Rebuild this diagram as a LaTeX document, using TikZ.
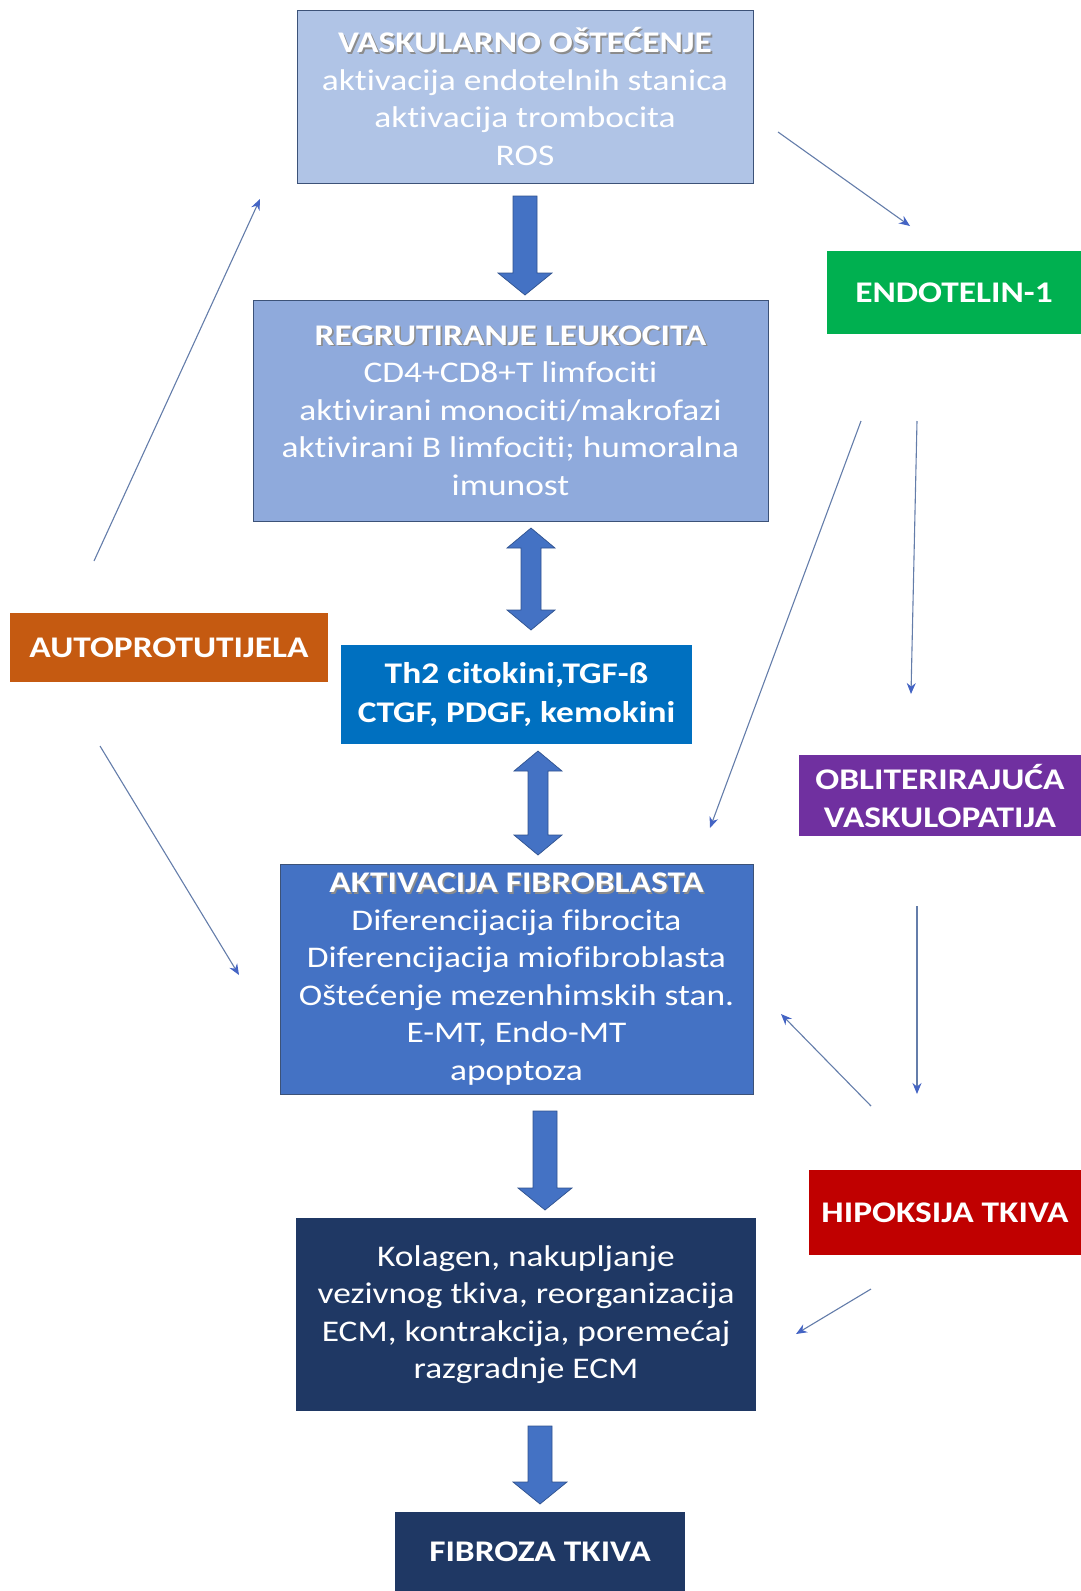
\documentclass[tikz,border=0pt]{standalone}
\usepackage{fontspec}
\setmainfont{Carlito}[FakeStretch=1.18,Ligatures={NoCommon,NoRare,NoContextual}]
\usetikzlibrary{arrows.meta}
\definecolor{bxone}{RGB}{176,196,230}
\definecolor{bxtwo}{RGB}{143,170,220}
\definecolor{bxthtwo}{RGB}{0,112,192}
\definecolor{bxfour}{RGB}{68,114,196}
\definecolor{bxnavy}{RGB}{31,56,100}
\definecolor{bxorange}{RGB}{197,90,17}
\definecolor{bxgreen}{RGB}{0,176,80}
\definecolor{bxpurple}{RGB}{112,48,160}
\definecolor{bxred}{RGB}{192,0,0}
\definecolor{bxline}{RGB}{60,82,120}
\definecolor{bigfill}{RGB}{68,114,196}
\definecolor{bigline}{RGB}{47,82,143}
\definecolor{thinline}{RGB}{100,125,170}
\definecolor{thinhead}{RGB}{68,100,196}
\newcommand\shtitle[1]{\leavevmode\rlap{\raisebox{-1.6pt}{\hspace{1.6pt}\textcolor{black!45}{\textbf{#1}}}}\textbf{#1}}
\newcommand\blockdown[3]{% x, ytop, ytip
  \filldraw[bigarrow] (#1-12,#2) -- (#1+12,#2) -- (#1+12,#3-22) -- (#1+27,#3-22) -- (#1,#3) -- (#1-27,#3-22) -- (#1-12,#3-22) -- cycle;}
\newcommand\blockboth[3]{% x, ytop, ybottom
  \filldraw[bigarrow] (#1,#2) -- (#1+24,#2+20) -- (#1+10,#2+20) -- (#1+10,#3-20) -- (#1+24,#3-20) -- (#1,#3) -- (#1-24,#3-20) -- (#1-10,#3-20) -- (#1-10,#2+20) -- (#1-24,#2+20) -- cycle;}
\begin{document}
\begin{tikzpicture}[x=1pt,y=-1pt,
  box/.style={draw=bxline, line width=0.8pt, text=white, align=center, inner sep=0pt,
    font=\fontsize{30}{37.5}\selectfont},
  side/.style={draw=none, text=white, align=center, inner sep=0pt,
    font=\fontsize{30}{38}\selectfont\bfseries},
  bigarrow/.style={fill=bigfill, draw=bigline, line width=0.7pt},
  thin/.style={draw=thinline, line width=1.1pt, -{Stealth[length=11pt,width=9pt,color=thinhead]}}]
\useasboundingbox (0,0) rectangle (1081,1591);

\node[box, fill=bxone, minimum width=456, minimum height=173] (b1) at (525,96.5)
  {\shtitle{VASKULARNO OŠTEĆENJE}\\aktivacija endotelnih stanica\\aktivacija trombocita\\ROS};
\node[box, fill=bxtwo, minimum width=515, minimum height=221] (b2) at (510.5,410.5)
  {\shtitle{REGRUTIRANJE LEUKOCITA}\\CD4+CD8+T limfociti\\aktivirani monociti/makrofazi\\aktivirani B limfociti; humoralna\\imunost};
\node[box, draw=none, fill=bxthtwo, minimum width=351, minimum height=99,
  font=\fontsize{30}{38.5}\selectfont\bfseries] (b3) at (516.5,694.5)
  {Th2 citokini,TGF-ß\\CTGF, PDGF, kemokini};
\node[box, fill=bxfour, minimum width=473, minimum height=230] (b4) at (516.5,979)
  {\shtitle{AKTIVACIJA FIBROBLASTA}\\Diferencijacija fibrocita\\Diferencijacija miofibroblasta\\Oštećenje mezenhimskih stan.\\E-MT, Endo-MT\\apoptoza};
\node[box, draw=none, fill=bxnavy, minimum width=460, minimum height=193] (b5) at (526,1314.5)
  {Kolagen, nakupljanje\\vezivnog tkiva, reorganizacija\\ECM, kontrakcija, poremećaj\\razgradnje ECM};
\node[box, draw=none, fill=bxnavy, minimum width=290, minimum height=79,
  font=\fontsize{30}{38}\selectfont\bfseries] (b6) at (540,1551.5) {FIBROZA TKIVA};

\node[side, fill=bxorange, minimum width=318, minimum height=69] (auto) at (169,647.5) {AUTOPROTUTIJELA};
\node[side, fill=bxgreen, minimum width=254, minimum height=83] (endo) at (954,292.5) {ENDOTELIN-1};
\node[side, fill=bxpurple, minimum width=282, minimum height=81] (obl) at (940,795.5) {OBLITERIRAJUĆA\\VASKULOPATIJA};
\node[side, fill=bxred, minimum width=272, minimum height=85] (hip) at (945,1212.5) {HIPOKSIJA TKIVA};

% block arrows
\blockdown{525}{196}{295}
\blockboth{531}{528}{630}
\blockboth{538}{751}{855}
\blockdown{545}{1111}{1210}
\blockdown{540}{1426}{1504}

% thin connectors
\coordinate (s1) at (778,132);  \coordinate (e1) at (910,226);
\coordinate (s2) at (861,421);  \coordinate (e2) at (710,828);
\coordinate (s3) at (917,421);  \coordinate (e3) at (911,694);
\coordinate (s4) at (917,906);  \coordinate (e4) at (917,1094);
\coordinate (s5) at (871,1106); \coordinate (e5) at (781,1014);
\coordinate (s6) at (871,1289); \coordinate (e6) at (796,1334);
\coordinate (s7) at (94,561);   \coordinate (e7) at (260,199);
\coordinate (s8) at (100,746);  \coordinate (e8) at (239,975);
\draw[thin] (s1) -- (e1);
\draw[thin] (s2) -- (e2);
\draw[thin] (s3) -- (e3);
\draw[thin] (s4) -- (e4);
\draw[thin] (s5) -- (e5);
\draw[thin] (s6) -- (e6);
\draw[thin] (s7) -- (e7);
\draw[thin] (s8) -- (e8);
\end{tikzpicture}
\end{document}
